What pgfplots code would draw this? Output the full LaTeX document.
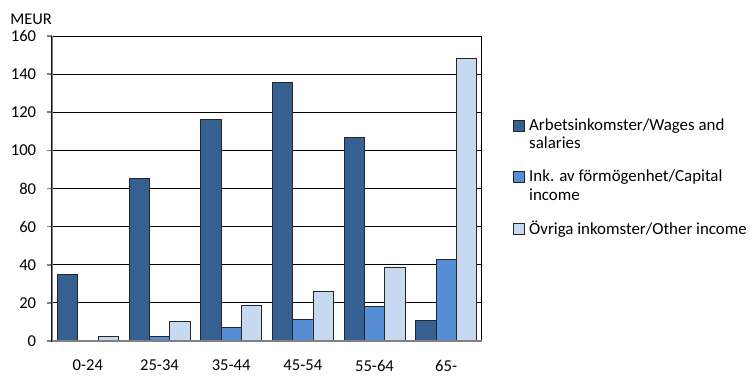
\documentclass[border=0pt]{standalone}
\usepackage{pgfplots}
\pgfplotsset{compat=1.18}
\usepackage{fontspec}
\setmainfont{Carlito}
\definecolor{cA}{RGB}{55,96,146}
\definecolor{cB}{RGB}{85,142,213}
\definecolor{cC}{RGB}{198,217,241}
\pgfplotsset{
  twoline/.style={legend image code/.code={\path[draw=none,fill=none] (0pt,-7.5pt) rectangle (5.5pt,7.5pt);\draw[##1, line width=0.5pt] (0pt,2pt) rectangle (5.5pt,7.5pt);}},
  oneline/.style={legend image code/.code={\draw[##1, line width=0.5pt] (0pt,-2.75pt) rectangle (5.5pt,2.75pt);}},
}
\begin{document}
\fontsize{8.2}{9}\selectfont
\begin{tikzpicture}
\begin{axis}[
  name=ax,
  scale only axis,
  width=215pt, height=152.5pt,
  ybar=0pt, bar width=10.15pt,
  xmin=-0.5, xmax=5.5,
  ymin=0, ymax=160,
  xtick=data,
  xticklabels={0-24,25-34,35-44,45-54,55-64,65-},
  ytick={0,20,...,160},
  ytick pos=left,
  ymajorgrids, grid style={black, line width=0.5pt},
  x tick style={draw=none},
  y tick style={gray, line width=0.8pt},
  tick align=outside, major tick length=2.5pt,
  axis line style={black, line width=0.5pt},
  /pgf/number format/assume math mode=true,
  ticklabel style={font=\fontsize{8.3}{9}\selectfont},
  yticklabel style={xshift=-2.5pt},
  xticklabel style={yshift=-4pt},
  legend style={draw=none, fill=none, inner sep=0pt, outer sep=0pt,
    at={(rel axis cs:1,0.535)}, anchor=west, xshift=15.5pt,
    nodes={inner sep=0.6pt}, column sep=1.5pt,
    cells={anchor=west, align=left, font=\fontsize{8.45}{9.3}\selectfont}, row sep=8pt},
  oneline,
  every axis plot/.append style={draw=black!85, line width=0.4pt},
]
\addplot[fill=cA, twoline] coordinates {(0,35) (1,85.5) (2,116) (3,135.4) (4,107) (5,11)};
\addplot[fill=cB, twoline] coordinates {(0,0.5) (1,2.4) (2,7.3) (3,11.5) (4,17.9) (5,43)};
\addplot[fill=cC] coordinates {(0,2.6) (1,10.4) (2,18.9) (3,26.2) (4,38.8) (5,148)};
\legend{Arbetsinkomster/Wages and\\salaries, Ink. av förmögenhet/Capital\\income, Övriga inkomster/Other income}
\draw[gray, line width=1pt] (rel axis cs:0,0) -- (rel axis cs:0,1);
\draw[gray, line width=1pt] (rel axis cs:0,0) -- (rel axis cs:1,0);
\end{axis}
\node[anchor=base west, inner sep=0pt] at ([xshift=-21pt, yshift=5.5pt]ax.north west) {MEUR};
\path ([xshift=-26pt,yshift=-14.5pt]ax.south west) rectangle ([xshift=135.5pt,yshift=18pt]ax.north east);
\end{tikzpicture}
\end{document}
